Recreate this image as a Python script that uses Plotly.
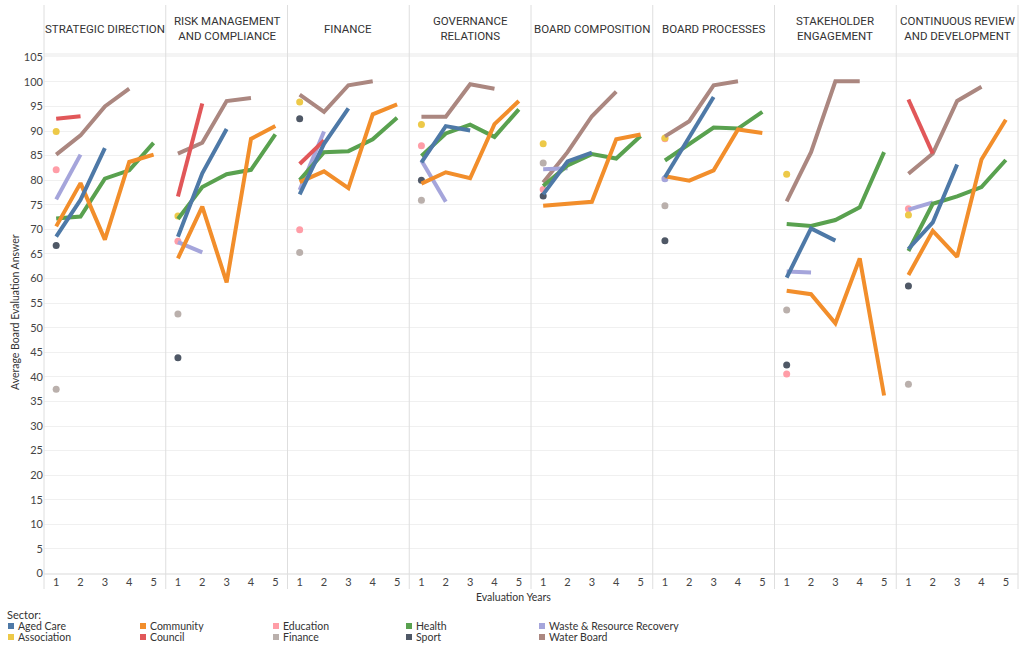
import plotly.graph_objects as go
from plotly.subplots import make_subplots

# ---------------- data ----------------
dimensions = [
    "STRATEGIC DIRECTION",
    "RISK MANAGEMENT<br>AND COMPLIANCE",
    "FINANCE",
    "GOVERNANCE<br>RELATIONS",
    "BOARD COMPOSITION",
    "BOARD PROCESSES",
    "STAKEHOLDER<br>ENGAGEMENT",
    "CONTINUOUS REVIEW<br>AND DEVELOPMENT",
]
years = [1, 2, 3, 4, 5]
N = None

aged_care = [
    [68.5, 76.0, 86.5, N, N],
    [68.5, 81.4, 90.4, N, N],
    [77.1, 87.4, 94.6, N, N],
    [83.6, 91.0, 90.1, N, N],
    [77.1, 83.8, 85.6, N, N],
    [80.6, 88.8, 96.9, N, N],
    [60.2, 70.2, 67.7, N, N],
    [66.0, 71.4, 83.2, N, N],
]
community = [
    [70.6, 79.4, 67.9, 83.7, 85.2],
    [64.1, 74.6, 59.2, 88.4, 91.0],
    [79.6, 81.8, 78.4, 93.4, 95.4],
    [79.3, 81.6, 80.4, 91.4, 96.1],
    [74.8, 75.2, 75.6, 88.3, 89.3],
    [80.8, 79.9, 82.0, 90.3, 89.6],
    [57.5, 56.8, 50.9, 64.1, 36.2],
    [60.7, 69.7, 64.4, 84.2, 92.3],
]
health = [
    [72.2, 72.6, 80.3, 82.0, 87.6],
    [72.1, 78.6, 81.2, 82.1, 89.3],
    [80.0, 85.7, 85.9, 88.3, 92.7],
    [84.9, 89.5, 91.3, 88.8, 94.4],
    [78.8, 83.0, 85.3, 84.4, 89.0],
    [84.0, 87.3, 90.7, 90.5, 93.9],
    [71.1, 70.7, 71.9, 74.5, 85.7],
    [65.6, 75.2, 76.7, 78.6, 84.1],
]
water_board = [
    [85.2, 89.1, 95.0, 98.6, N],
    [85.4, 87.6, 96.1, 96.7, N],
    [97.4, 93.9, 99.3, 100.1, N],
    [92.9, 92.9, 99.5, 98.6, N],
    [79.5, 85.7, 93.0, 98.0, N],
    [88.9, 92.0, 99.3, 100.1, N],
    [75.7, 85.7, 100.1, 100.1, N],
    [81.3, 85.4, 96.1, 99.0, N],
]
council = [
    [92.5, 93.0, N, N, N],
    [76.7, 95.6, N, N, N],
    [83.3, 88.1, N, N, N],
    [N, N, N, N, N],
    [N, N, N, N, N],
    [N, N, N, N, N],
    [N, N, N, N, N],
    [96.4, 85.4, N, N, N],
]
waste = [
    [76.1, 85.2, N, N, N],
    [67.4, 65.3, N, N, N],
    [78.0, 89.9, N, N, N],
    [84.0, 75.6, N, N, N],
    [82.2, 82.4, N, N, N],
    [80.3, N, N, N, N],
    [61.4, 61.2, N, N, N],
    [74.0, 75.5, N, N, N],
]
association_y1 = [89.9, 72.7, 95.9, 91.3, 87.4, 88.6, 81.2, 72.9]
education_y1 = [82.1, 67.6, 69.9, 87.0, 78.1, 88.4, 40.6, 74.2]
finance_y1 = [37.5, 52.8, 65.3, 75.9, 83.5, 74.8, 53.6, 38.5]
sport_y1 = [66.7, 43.9, 92.5, 80.0, 76.8, 67.7, 42.4, 58.5]

legend_order = [
    ["Aged Care", "Community", "Education", "Health", "Waste & Resource Recovery"],
    ["Association", "Council", "Finance", "Sport", "Water Board"],
]
colors = {
    "Aged Care": "#4e79a7",
    "Association": "#edc948",
    "Community": "#f28e2b",
    "Council": "#e15759",
    "Education": "#ff9da7",
    "Finance": "#bab0ac",
    "Health": "#59a14f",
    "Sport": "#4f5866",
    "Waste & Resource Recovery": "#a5a5db",
    "Water Board": "#ab8780",
}

def year1_only(vals):
    return [[v, N, N, N, N] for v in vals]

series = [
    ("Finance", year1_only(finance_y1)),
    ("Sport", year1_only(sport_y1)),
    ("Education", year1_only(education_y1)),
    ("Association", year1_only(association_y1)),
    ("Water Board", water_board),
    ("Waste & Resource Recovery", waste),
    ("Health", health),
    ("Community", community),
    ("Council", council),
    ("Aged Care", aged_care),
]

# ---------------- layout geometry ----------------
W, H = 1024, 649
ML, MR, MT, MB = 44, 6, 57, 75
PW, PH = W - ML - MR, H - MT - MB
FONT = "Lato"
HFONT = "Roboto"

def px_x(px):
    return (px - ML) / PW

def px_y(py):
    return (H - MB - py) / PH

ncol = len(dimensions)
fig = make_subplots(rows=1, cols=ncol, shared_yaxes=True, horizontal_spacing=0)

for name, data in series:
    col = colors[name]
    for i in range(ncol):
        vals = data[i]
        xs = [x for x, v in zip(years, vals) if v is not None]
        ys = [v for v in vals if v is not None]
        if not ys:
            continue
        if len(ys) == 1:
            fig.add_trace(go.Scatter(x=xs, y=ys, mode="markers",
                                     marker=dict(color=col, size=7),
                                     showlegend=False, name=name,
                                     hoverinfo="skip"), row=1, col=i + 1)
        else:
            fig.add_trace(go.Scatter(x=xs, y=ys, mode="lines",
                                     line=dict(color=col, width=4),
                                     showlegend=False, name=name,
                                     hoverinfo="skip"), row=1, col=i + 1)

for i in range(ncol):
    fig.update_xaxes(range=[0.5, 5.5], tickvals=years, ticktext=[str(y) for y in years],
                     showgrid=False, zeroline=False, showline=False, ticks="",
                     tickfont=dict(size=11, color="#444", family=FONT),
                     row=1, col=i + 1)
fig.update_yaxes(range=[-0.1, 105.05], dtick=5, tick0=0, showgrid=True,
                 gridcolor="#f0f0f0", gridwidth=1, zeroline=False, showline=False,
                 ticks="", tickfont=dict(size=11, color="#444", family=FONT),
                 automargin=False)
fig.update_xaxes(automargin=False)
fig.update_yaxes(showticklabels=True, row=1, col=1)

shapes = []
# header band
shapes.append(dict(type="rect", xref="paper", yref="paper", x0=0, x1=1,
                   y0=px_y(57), y1=px_y(53), fillcolor="#f4f4f4", line=dict(width=0),
                   layer="below"))
# bottom axis line
shapes.append(dict(type="line", xref="paper", yref="paper", x0=0, x1=1,
                   y0=0, y1=0, line=dict(color="#d9d9d9", width=1)))
# panel separators
for k in range(ncol + 1):
    shapes.append(dict(type="line", xref="paper", yref="paper", x0=k / ncol, x1=k / ncol,
                       y0=px_y(589), y1=px_y(5), line=dict(color="#dedede", width=1)))

annotations = []
for i, d in enumerate(dimensions):
    annotations.append(dict(text=d, xref="paper", yref="paper", x=(i + 0.5) / ncol,
                            y=px_y(29), xanchor="center", yanchor="middle", showarrow=False,
                            font=dict(size=11.5, color="#333", family=HFONT), align="center"))
annotations.append(dict(text="Average Board Evaluation Answer", xref="paper", yref="paper",
                        x=px_x(15), y=px_y(312), textangle=-90, xanchor="center",
                        yanchor="middle", showarrow=False,
                        font=dict(size=10.5, color="#333", family=FONT)))
annotations.append(dict(text="Evaluation Years", xref="paper", yref="paper",
                        x=px_x(513), y=px_y(597), xanchor="center", yanchor="middle",
                        showarrow=False, font=dict(size=10.5, color="#333", family=FONT)))
annotations.append(dict(text="Sector:", xref="paper", yref="paper",
                        x=px_x(5), y=px_y(614), xanchor="left", yanchor="middle",
                        showarrow=False, font=dict(size=11, color="#333", family=FONT)))

col_x = [8, 140, 273, 406, 539]
row_y = [626, 637]
for r, row in enumerate(legend_order):
    for c, name in enumerate(row):
        x0 = col_x[c]
        yc = row_y[r]
        shapes.append(dict(type="rect", xref="paper", yref="paper",
                           x0=px_x(x0), x1=px_x(x0 + 6), y0=px_y(yc + 3), y1=px_y(yc - 3),
                           fillcolor=colors[name], line=dict(width=0)))
        annotations.append(dict(text=name, xref="paper", yref="paper",
                                x=px_x(x0 + 8), y=px_y(yc), xanchor="left", yanchor="middle",
                                showarrow=False,
                                font=dict(size=10.5, color="#333", family=FONT)))

fig.update_layout(width=W, height=H, margin=dict(l=ML, r=MR, t=MT, b=MB),
                  paper_bgcolor="white", plot_bgcolor="white",
                  shapes=shapes, annotations=annotations, showlegend=False,
                  font=dict(family=FONT, color="#333"))

fig.write_html("out.html", config={"displayModeBar": False},
               post_script="document.body.style.margin='0';document.body.style.padding='0';")
